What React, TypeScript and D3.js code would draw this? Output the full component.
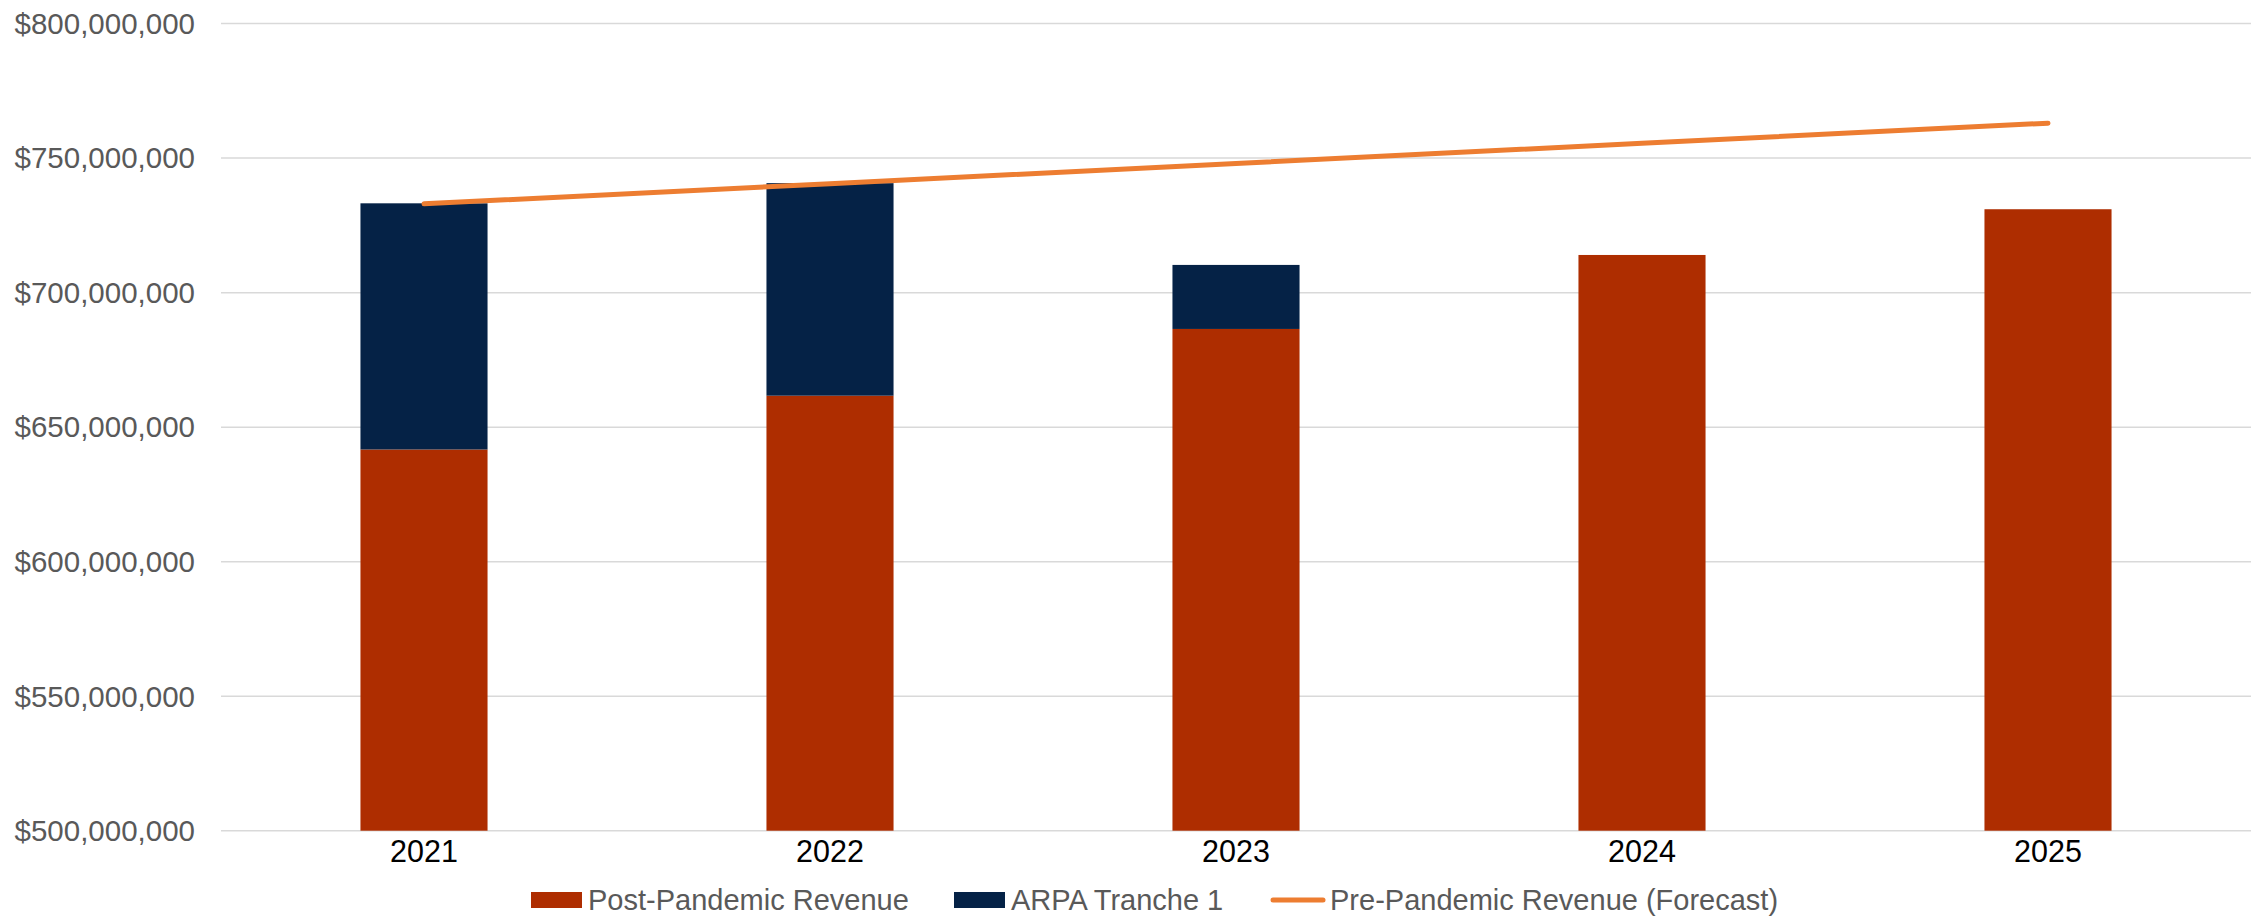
import React from "react";
import * as d3 from "d3";

const years = ["2021", "2022", "2023", "2024", "2025"];
const postPandemic = [641.7e6, 661.7e6, 686.5e6, 714.0e6, 731.0e6];
const arpaTranche1 = [91.5e6, 79.0e6, 23.8e6, 0, 0];
const prePandemicForecast = [733.0e6, 740.5e6, 748.0e6, 755.5e6, 763.0e6];
const yTicks = [500e6, 550e6, 600e6, 650e6, 700e6, 750e6, 800e6];

const W = 2257;
const H = 916;
const RED = "#AE2D00";
const NAVY = "#052246";
const ORANGE = "#ED7D31";
const GRID = "#D9D9D9";
const FONT = "'Liberation Sans', Arial, sans-serif";

export default function App() {
  const x = d3.scaleBand<string>().domain(years).range([221, 2251]).paddingInner(0.687).paddingOuter(0.3435);
  const y = d3.scaleLinear().domain([500e6, 800e6]).range([830.7, 23.6]).clamp(true);
  const fmt = (v: number) => "$" + d3.format(",")(v);

  const stack = d3
    .stack<number>()
    .keys(["post", "arpa"])
    .value((i, key) => (key === "post" ? postPandemic[i] : arpaTranche1[i]));
  const series = stack(years.map((_, i) => i));
  const colors = [RED, NAVY];

  const line = d3
    .line<number>()
    .x((_, i) => (x(years[i]) as number) + x.bandwidth() / 2)
    .y((d) => y(d));

  const legend = [
    { label: "Post-Pandemic Revenue", type: "rect", color: RED, x: 531 },
    { label: "ARPA Tranche 1", type: "rect", color: NAVY, x: 954 },
    { label: "Pre-Pandemic Revenue (Forecast)", type: "line", color: ORANGE, x: 1273 },
  ];
  const legY = 900;

  return (
    <svg
      width={W}
      height={H}
      style={{ position: "absolute", left: 0, top: 0, background: "#fff" }}
      fontFamily={FONT}
    >
      {yTicks.map((t) => (
        <g key={t}>
          <line x1={221} x2={2251} y1={y(t)} y2={y(t)} stroke={GRID} strokeWidth={1.5} />
          <text x={195} y={y(t)} dy="0.35em" textAnchor="end" fontSize={29.5} fill="#595959">
            {fmt(t)}
          </text>
        </g>
      ))}
      {series.map((s, si) =>
        s.map((d, i) =>
          d[1] - d[0] > 0 ? (
            <rect
              key={`${si}-${i}`}
              x={x(years[i])}
              width={x.bandwidth()}
              y={y(d[1])}
              height={y(d[0]) - y(d[1])}
              fill={colors[si]}
            />
          ) : null
        )
      )}
      <path
        d={line(prePandemicForecast) || ""}
        fill="none"
        stroke={ORANGE}
        strokeWidth={5}
        strokeLinecap="round"
      />
      {years.map((yr) => (
        <text
          key={yr}
          x={(x(yr) as number) + x.bandwidth() / 2}
          y={862}
          textAnchor="middle"
          fontSize={30.5}
          fill="#000"
        >
          {yr}
        </text>
      ))}
      {legend.map((l) => (
        <g key={l.label}>
          {l.type === "rect" ? (
            <rect x={l.x} y={legY - 8} width={51} height={16} fill={l.color} />
          ) : (
            <line x1={l.x} x2={l.x + 50} y1={legY} y2={legY} stroke={l.color} strokeWidth={5} strokeLinecap="round" />
          )}
          <text x={l.x + 57} y={legY} dy="0.35em" fontSize={29} fill="#595959">
            {l.label}
          </text>
        </g>
      ))}
    </svg>
  );
}
